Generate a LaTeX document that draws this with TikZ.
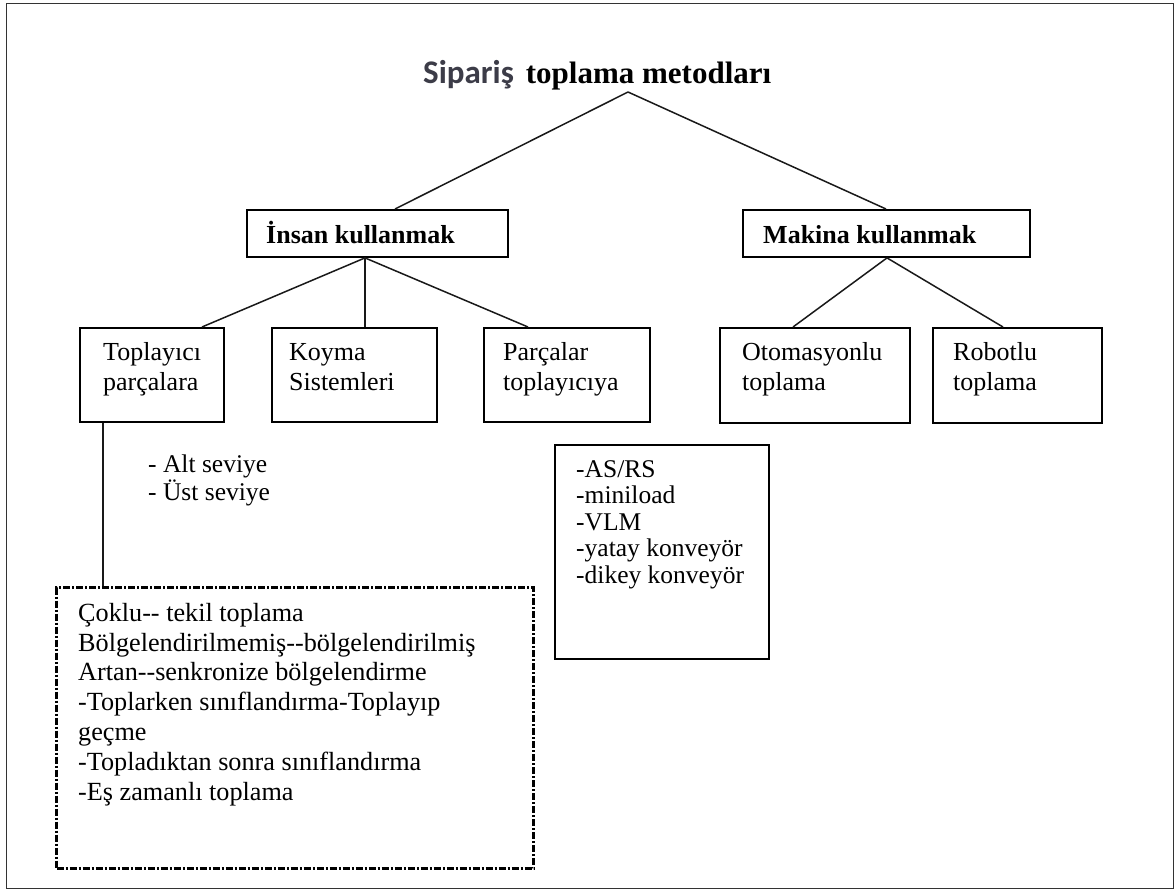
\documentclass[tikz,border=0pt]{standalone}
\usepackage{fontspec}
\setmainfont{Liberation Serif}
\newfontfamily\headsans{Carlito}
\usetikzlibrary{calc}
\definecolor{headgray}{HTML}{3C3C48}
\begin{document}
\begin{tikzpicture}[x=1pt,y=-1pt,
  box/.style={draw=black, line width=1.9pt, anchor=north west, inner sep=0pt},
  listbox/.style={box, line width=1.7pt},
  dotbox/.style={draw=black, line width=3pt, dash pattern=on 7pt off 2pt on 2pt off 2pt,
                 anchor=north west, inner sep=0pt},
  % multi-line texts are placed by the baseline of their last line
  txt/.style={anchor=base west, align=left, inner sep=0pt, font=\fontsize{26}{30}\selectfont},
  listtxt/.style={txt, font=\fontsize{25.5}{26.5}\selectfont},
  headtxt/.style={txt, font=\bfseries\fontsize{26}{30}\selectfont},
  link/.style={draw=black!90, line width=1.5pt}]

\useasboundingbox (0,0) rectangle (1175,891);
\draw[draw=black!80, line width=1.6pt] (6.5,3.5) rectangle (1173.5,888.5);

% title
\node[anchor=base west, inner sep=0pt] (title) at (423,83)
  {{\headsans\bfseries\fontsize{33}{36}\selectfont\color{headgray}Sipariş}\hspace{12pt}{\bfseries\fontsize{31}{36}\selectfont toplama metodları}};
\coordinate (apex) at (628,92);

% second level
\node[box, minimum width=261, minimum height=47] (insan) at (246,209) {};
\node[headtxt] (insant) at (266,243) {İnsan kullanmak};
\node[box, minimum width=287, minimum height=47] (makina) at (742,209) {};
\node[headtxt] (makinat) at (763,243) {Makina kullanmak};

% third level
\node[box, minimum width=144, minimum height=94] (tp) at (79,327) {};
\node[txt] (tpt) at (103,390) {Toplayıcı\\parçalara};
\node[box, minimum width=165, minimum height=94] (koyma) at (271,327) {};
\node[txt] (koymat) at (289,390) {Koyma\\Sistemleri};
\node[box, minimum width=166, minimum height=94] (parca) at (483,327) {};
\node[txt] (parcat) at (503,390) {Parçalar\\toplayıcıya};
\node[box, minimum width=190, minimum height=95] (otom) at (719,327) {};
\node[txt] (otomt) at (742,390) {Otomasyonlu\\toplama};
\node[box, minimum width=169, minimum height=95] (robot) at (932,327) {};
\node[txt] (robott) at (953,390) {Robotlu\\toplama};

% notes
\node[listtxt, font=\fontsize{25.5}{25}\selectfont] (levels) at (148,500) {- Alt seviye\\- Üst seviye};

\node[listbox, minimum width=214, minimum height=214] (sys) at (554,444) {};
\node[listtxt] (syst) at (576,583) {-AS/RS\\-miniload\\-VLM\\-yatay konveyör\\-dikey konveyör};

\node[dotbox, minimum width=477, minimum height=281] (dots) at (55,586) {};
\node[txt, font=\fontsize{26.2}{29.8}\selectfont] (dotst) at (78,800)
  {Çoklu-{}- tekil toplama\\Bölgelendirilmemiş-{}-bölgelendirilmiş\\Artan-{}-senkronize bölgelendirme\\-Toplarken sınıflandırma-Toplayıp\\geçme\\-Topladıktan sonra sınıflandırma\\-Eş zamanlı toplama};

% connectors
\draw[link] (apex) -- ($(insan.north west)+(149,0)$);
\draw[link] (apex) -- ($(makina.north west)+(144,0)$);
\draw[link] ($(insan.south west)+(119,0)$) -- ($(tp.north west)+(123,0)$);
\draw[link] ($(insan.south west)+(119,0)$) -- ($(koyma.north west)+(94,0)$);
\draw[link] ($(insan.south west)+(119,0)$) -- ($(parca.north west)+(45,0)$);
\draw[link] ($(makina.south west)+(145,0)$) -- ($(otom.north west)+(74,0)$);
\draw[link] ($(makina.south west)+(145,0)$) -- ($(robot.north west)+(71,0)$);
\draw[link] ($(tp.south west)+(24,0)$) -- ($(dots.north west)+(48,0)$);
\end{tikzpicture}
\end{document}
